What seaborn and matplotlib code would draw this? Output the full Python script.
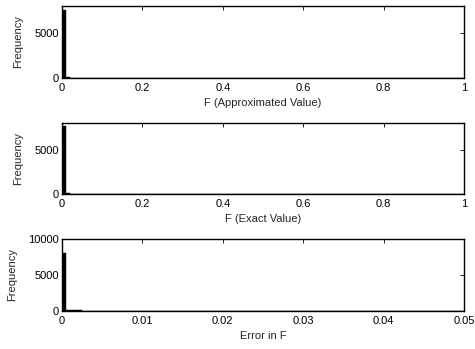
import numpy as np
import pandas as pd
import matplotlib
matplotlib.use("Agg")
import matplotlib.pyplot as plt
import seaborn as sns

# Histogram counts per bin (bins of width 0.01 on [0, 1] for F,
# width 0.0005 on [0, 0.05] for the error)
approx_counts = [7600, 60, 45, 35, 30, 26, 22, 20, 18, 16,
                 15, 14, 13, 12, 11, 10, 9, 9, 8, 8,
                 7, 7, 6, 6, 5, 5, 5, 4, 4, 4,
                 3, 3, 3, 3, 2, 2, 2, 2, 2, 2]
exact_counts = [7620, 58, 44, 34, 29, 25, 22, 19, 17, 16,
                15, 14, 12, 11, 11, 10, 9, 8, 8, 7,
                7, 6, 6, 6, 5, 5, 4, 4, 4, 3,
                3, 3, 3, 2, 2, 2, 2, 2, 2, 2]
error_counts = [8000, 200, 160, 130, 90, 60, 50, 42, 36, 30,
                26, 22, 19, 16, 14, 12, 10, 8, 6, 5]

f_edges_range = (0.0, 1.0, 100)
err_edges_range = (0.0, 0.05, 100)

f_xticks = [0, 0.2, 0.4, 0.6, 0.8, 1]
f_xticklabels = ["0", "0.2", "0.4", "0.6", "0.8", "1"]
err_xticks = [0, 0.01, 0.02, 0.03, 0.04, 0.05]
err_xticklabels = ["0", "0.01", "0.02", "0.03", "0.04", "0.05"]

FS = 8.0

sns.set_theme(style="white")
plt.rcParams["font.family"] = ["Liberation Sans", "DejaVu Sans"]
plt.rcParams["font.size"] = FS

fig = plt.figure(figsize=(4.75, 3.49), dpi=100)

panels = [
    dict(counts=approx_counts, rng=f_edges_range, xticks=f_xticks,
         xlabels=f_xticklabels, ymax=8000, yticks=[0, 5000],
         xlabel="F (Approximated Value)", pos=[0.1305, 0.7765, 0.8465, 0.2065]),
    dict(counts=exact_counts, rng=f_edges_range, xticks=f_xticks,
         xlabels=f_xticklabels, ymax=8000, yticks=[0, 5000],
         xlabel="F (Exact Value)", pos=[0.1305, 0.4441, 0.8465, 0.2035]),
    dict(counts=error_counts, rng=err_edges_range, xticks=err_xticks,
         xlabels=err_xticklabels, ymax=10000, yticks=[0, 5000, 10000],
         xlabel="Error in F", pos=[0.1305, 0.1089, 0.8465, 0.2063]),
]

for p in panels:
    lo, hi, n = p["rng"]
    width = (hi - lo) / n
    centers = lo + width * (np.arange(n) + 0.5)
    counts = np.zeros(n)
    counts[:len(p["counts"])] = p["counts"]
    df = pd.DataFrame({"x": centers, "count": counts})

    ax = fig.add_axes(p["pos"])
    sns.histplot(data=df, x="x", weights="count", binwidth=width,
                 binrange=(lo, hi), ax=ax,
                 color="black", edgecolor="black", linewidth=0.3,
                 alpha=1.0, legend=False)
    ax.set_xlim(lo, hi)
    ax.set_ylim(0, p["ymax"])
    ax.set_xticks(p["xticks"])
    ax.set_xticklabels(p["xlabels"])
    ax.set_yticks(p["yticks"])
    ax.set_yticklabels([str(v) for v in p["yticks"]])
    ax.set_xlabel(p["xlabel"], fontsize=FS, labelpad=4)
    ax.set_ylabel("Frequency", fontsize=FS, labelpad=8)
    ax.tick_params(direction="in", length=3, width=0.6, top=True, right=True,
                   labelsize=FS, pad=2, colors="black")
    ax.tick_params(axis="x", pad=3.5)
    for s in ax.spines.values():
        s.set_visible(True)
        s.set_color("black")
        s.set_linewidth(1.0)
    ax.set_facecolor("white")

fig.savefig("out.png", dpi=100, facecolor="white")
